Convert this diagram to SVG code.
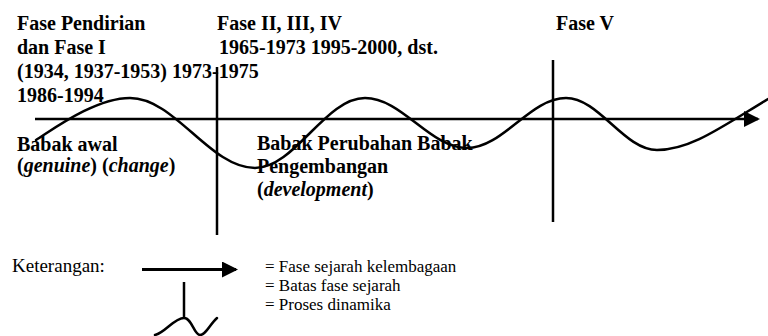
<svg xmlns="http://www.w3.org/2000/svg" width="768" height="336" viewBox="0 0 768 336">
  <style>
    .h { font-family: 'Liberation Serif', 'Times New Roman', serif; font-size: 20px; font-weight: bold; fill: #000; }
    .r { font-family: 'Liberation Serif', 'Times New Roman', serif; font-size: 17px; fill: #000; }
    .it { font-style: italic; }
    .ln { stroke: #000; stroke-width: 2.5; fill: none; }
    .wv { stroke: #000; stroke-width: 2.5; fill: none; stroke-linecap: round; }
  </style>
  <defs>
    <marker id="arrow" viewBox="0 0 16 16" markerWidth="16" markerHeight="16" refX="14" refY="8" markerUnits="userSpaceOnUse" orient="auto">
      <path d="M0,0 L16,8 L0,16 z" fill="#000"/>
    </marker>
  </defs>
  <rect width="768" height="336" fill="#fff"/>

  <g id="connectors">
    <line id="timeline" class="ln" x1="35" y1="119" x2="758" y2="119" marker-end="url(#arrow)"/>
    <line id="boundary-1" class="ln" x1="217" y1="67" x2="217" y2="235"/>
    <line id="boundary-2" class="ln" x1="553" y1="60" x2="553" y2="222"/>
    <path id="wave" class="wv" d="M36,140 C55,128 96,98 130,98 C175,98 210,168 255,168 C295,168 325,98 365,98 C402,98 430,148 467,148 C503,148 530,98 566,98 C599,98 624,150 657,150 C690,150 720,128 768,99"/>
  </g>

  <g id="phase-1">
    <text class="h" x="17" y="30">Fase Pendirian</text>
    <text class="h" x="17" y="54">dan Fase I</text>
    <text class="h" x="17" y="78">(1934, 1937-1953) 1973-1975</text>
    <text class="h" x="17" y="102">1986-1994</text>
  </g>
  <g id="phase-2">
    <text class="h" x="217" y="30">Fase II, III, IV</text>
    <text class="h" x="219" y="54">1965-1973 1995-2000, dst.</text>
  </g>
  <g id="phase-5">
    <text class="h" x="556" y="30">Fase V</text>
  </g>
  <g id="stage-1">
    <text class="h" x="17" y="151">Babak awal</text>
    <text class="h" x="17" y="172">(<tspan class="it">genuine</tspan>) (<tspan class="it">change</tspan>)</text>
  </g>
  <g id="stage-2">
    <text class="h" x="257" y="150">Babak Perubahan Babak</text>
    <text class="h" x="257" y="173">Pengembangan</text>
    <text class="h" x="257" y="196">(<tspan class="it">development</tspan>)</text>
  </g>

  <g id="legend">
    <text class="r" x="12" y="272" style="font-size:19px">Keterangan:</text>
    <line class="ln" style="stroke-width:3" x1="142" y1="269.5" x2="236" y2="269.5" marker-end="url(#arrow)"/>
    <line class="ln" x1="184" y1="282" x2="184" y2="318"/>
    <path class="wv" d="M155,335 C165,333 174,318 184,318 C192,318 194,335 200,335 C206,335 210,324 217,318"/>
    <text class="r" x="265" y="272">= Fase sejarah kelembagaan</text>
    <text class="r" x="265" y="291">= Batas fase sejarah</text>
    <text class="r" x="265" y="310">= Proses dinamika</text>
  </g>
</svg>
